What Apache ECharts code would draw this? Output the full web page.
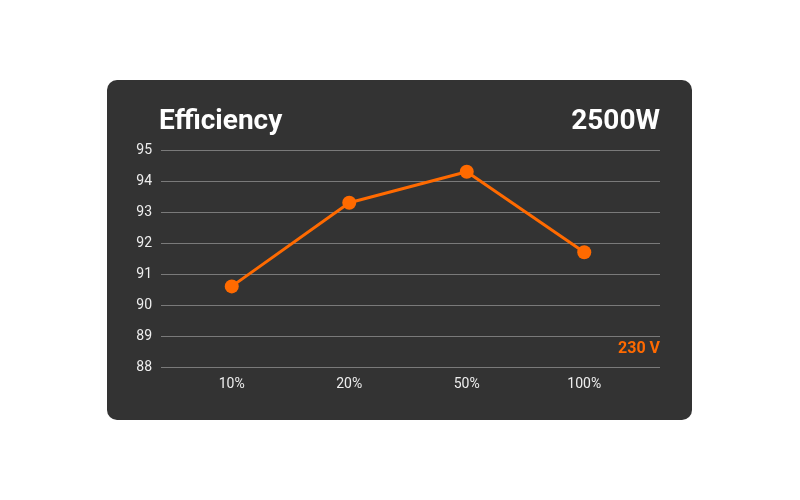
<!DOCTYPE html>
<html><head><meta charset="utf-8">
<script src="https://cdn.jsdelivr.net/npm/echarts@6/dist/echarts.min.js"></script>
<style>html,body{margin:0;padding:0;background:#fff}#c{width:800px;height:500px}</style>
</head><body><div id="c"></div>
<script>
const categories = ['10%', '20%', '50%', '100%'];
const efficiency = [90.6, 93.3, 94.3, 91.7];
const yTicks = [88, 89, 90, 91, 92, 93, 94, 95];
const titleText = 'Efficiency';
const powerText = '2500W';
const voltageText = '230 V';

const chart = echarts.init(document.getElementById('c'), null, {renderer: 'canvas'});
const font = 'Roboto';
chart.setOption({
  backgroundColor: '#ffffff',
  animation: false,
  graphic: [
    {type: 'rect', shape: {x: 107, y: 80, width: 585, height: 340, r: 10}, style: {fill: '#333333'}, z: -10},
    {type: 'text', left: 159, top: 108, style: {text: titleText, fill: '#ffffff', font: 'bold 28px Roboto', shadowColor: 'rgba(0,0,0,0.85)', shadowBlur: 5, shadowOffsetX: 1, shadowOffsetY: 2}},
    {type: 'text', right: 140, top: 108, style: {text: powerText, fill: '#ffffff', font: 'bold 28px Roboto', shadowColor: 'rgba(0,0,0,0.85)', shadowBlur: 5, shadowOffsetX: 1, shadowOffsetY: 2}},
    {type: 'text', right: 140, top: 341, style: {text: voltageText, fill: '#ff6a00', font: 'bold 16px Roboto', shadowColor: 'rgba(0,0,0,0.9)', shadowBlur: 3, shadowOffsetX: 1, shadowOffsetY: 1}, z: 20}
  ],
  grid: [
    {left: 161, right: 140, top: 150, bottom: 133},
    {left: 173, right: 157, top: 150, bottom: 133}
  ],
  xAxis: [
    {type: 'category', gridIndex: 0, data: categories, show: false},
    {type: 'category', gridIndex: 1, data: categories, boundaryGap: true,
     axisLine: {show: false}, axisTick: {show: false},
     axisLabel: {color: '#eeeeee', fontFamily: font, fontSize: 14, margin: 10}}
  ],
  yAxis: [
    {type: 'value', gridIndex: 0, min: yTicks[0], max: yTicks[yTicks.length - 1], interval: 1,
     axisLine: {show: false}, axisTick: {show: false},
     axisLabel: {color: '#eeeeee', fontFamily: font, fontSize: 14, margin: 9},
     splitLine: {lineStyle: {color: '#7a7a7a', width: 1}}},
    {type: 'value', gridIndex: 1, min: yTicks[0], max: yTicks[yTicks.length - 1], interval: 1, show: false, splitLine: {show: false}}
  ],
  series: [{
    type: 'line', xAxisIndex: 1, yAxisIndex: 1, data: efficiency,
    symbol: 'circle', symbolSize: 14,
    lineStyle: {color: '#ff6a00', width: 3},
    itemStyle: {color: '#ff6a00'}, z: 5
  }]
});
</script></body></html>
